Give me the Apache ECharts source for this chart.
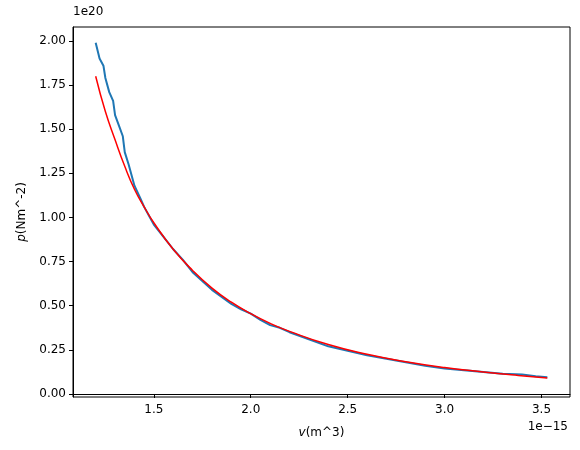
<!DOCTYPE html>
<html>
<head>
<meta charset="utf-8">
<script src="https://cdn.jsdelivr.net/npm/echarts@6/dist/echarts.min.js"></script>
<style>html,body{margin:0;padding:0;background:#fff}#main{width:580px;height:450px}</style>
</head>
<body>
<div id="main"></div>
<script>
// volume in units of 1e-15 m^3, pressure in units of 1e20 Nm^-2
var blueV = [1.20, 1.22, 1.24, 1.25, 1.27, 1.29, 1.30, 1.32, 1.34, 1.35, 1.37, 1.40, 1.43, 1.45, 1.48, 1.50, 1.55, 1.60, 1.65, 1.70, 1.75, 1.80, 1.85, 1.90, 1.95, 2.00, 2.05, 2.10, 2.15, 2.20, 2.30, 2.40, 2.50, 2.60, 2.70, 2.80, 2.90, 3.00, 3.10, 3.20, 3.30, 3.40, 3.47, 3.53];
var blueP = [1.99, 1.90, 1.86, 1.79, 1.71, 1.66, 1.58, 1.52, 1.46, 1.37, 1.30, 1.18, 1.11, 1.06, 1.00, 0.96, 0.89, 0.82, 0.76, 0.69, 0.64, 0.59, 0.55, 0.51, 0.48, 0.455, 0.42, 0.39, 0.375, 0.35, 0.31, 0.27, 0.245, 0.22, 0.20, 0.18, 0.16, 0.145, 0.135, 0.125, 0.115, 0.11, 0.10, 0.095];
var redV = [1.20, 1.25, 1.30, 1.35, 1.40, 1.45, 1.50, 1.60, 1.70, 1.80, 1.90, 2.00, 2.10, 2.20, 2.40, 2.60, 2.80, 3.00, 3.20, 3.38, 3.53];
var redP = [1.80, 1.60, 1.44, 1.29, 1.16, 1.06, 0.97, 0.82, 0.70, 0.60, 0.52, 0.455, 0.40, 0.355, 0.28, 0.225, 0.183, 0.150, 0.125, 0.105, 0.090];
var xTicks = [1.5, 2.0, 2.5, 3.0, 3.5];
var yTicks = [0, 0.25, 0.5, 0.75, 1.0, 1.25, 1.5, 1.75, 2.0];

function pairs(a, b) { return a.map(function (v, i) { return [v, b[i]]; }); }

var chart = echarts.init(document.getElementById('main'));
var font = 'DejaVu Sans';
chart.setOption({
    animation: false,
    grid: { left: 73, right: 10, top: 27, bottom: 53, show: true, borderColor: '#000', borderWidth: 1 },
    xAxis: {
        type: 'value', min: 1.083, max: 3.647,
        name: '{i|v}(m^3)', nameLocation: 'middle', nameGap: 30,
        nameTextStyle: { color: '#000', fontSize: 12, fontFamily: font, rich: { i: { fontStyle: 'italic', fontSize: 12, fontFamily: font } } },
        axisLine: { show: true, lineStyle: { color: '#000' } },
        axisTick: { show: true, customValues: xTicks, length: 4, lineStyle: { color: '#000' } },
        axisLabel: { customValues: xTicks, color: '#000', fontSize: 12, fontFamily: font, margin: 7, formatter: function (v) { return v.toFixed(1); } },
        splitLine: { show: false }
    },
    yAxis: {
        type: 'value', min: -0.017, max: 2.079,
        name: '{i|p}(Nm^-2)', nameLocation: 'middle', nameGap: 45, nameRotate: 90,
        nameTextStyle: { color: '#000', fontSize: 12, fontFamily: font, rich: { i: { fontStyle: 'italic', fontSize: 12, fontFamily: font } } },
        axisLine: { show: true, lineStyle: { color: '#000' } },
        axisTick: { show: true, customValues: yTicks, length: 4, lineStyle: { color: '#000' } },
        axisLabel: { customValues: yTicks, color: '#000', fontSize: 12, fontFamily: font, margin: 7, formatter: function (v) { return v.toFixed(2); } },
        splitLine: { show: false }
    },
    graphic: [
        { type: 'text', left: 73, top: 6, style: { text: '1e20', fontSize: 12, fontFamily: font, fill: '#000' } },
        { type: 'text', right: 12, top: 421, style: { text: '1e\u221215', fontSize: 12, fontFamily: font, fill: '#000' } }
    ],
    series: [
        { type: 'line', data: pairs(blueV, blueP), showSymbol: false, lineStyle: { color: '#1f77b4', width: 2 } },
        { type: 'line', data: pairs(redV, redP), showSymbol: false, smooth: true, lineStyle: { color: '#ff0000', width: 1.5 } }
    ]
});
</script>
</body>
</html>
